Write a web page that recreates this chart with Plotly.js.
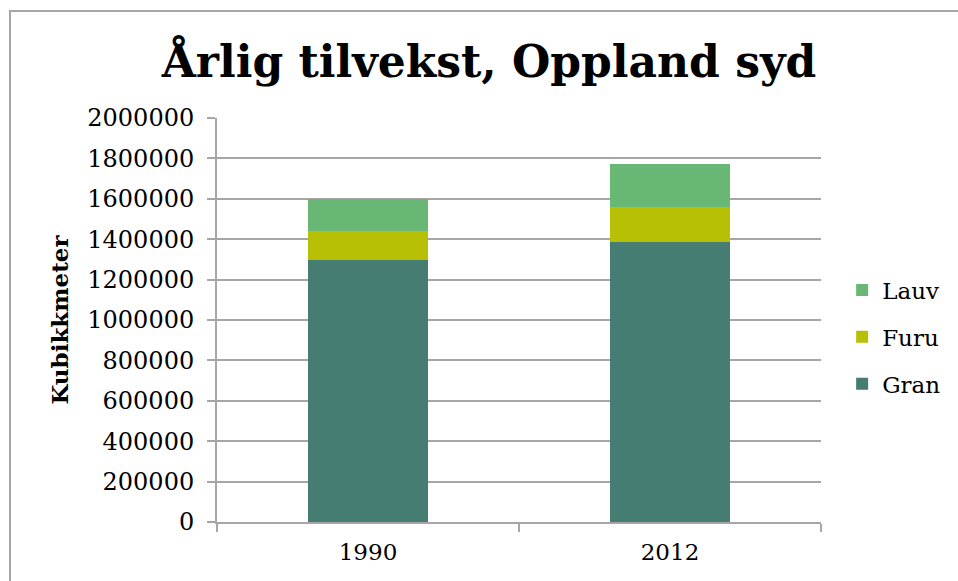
<!DOCTYPE html>
<html>
<head>
<meta charset="utf-8">
<script src="https://cdn.plot.ly/plotly-3.0.1.min.js"></script>
<style>
  html, body { margin: 0; padding: 0; background: #fff; }
  #wrap { position: relative; width: 958px; height: 581px; overflow: hidden; }
  #chart { width: 958px; height: 581px; }
  #frame { position: absolute; left: 9px; top: 10px; width: 1000px; height: 700px;
           border-left: 2px solid #a6a6a6; border-top: 2px solid #a6a6a6; pointer-events: none; }
</style>
</head>
<body>
<div id="wrap">
  <div id="chart"></div>
  <div id="frame"></div>
</div>
<script>
const years = ['1990', '2012'];
const gran = [1295000, 1388000];
const furu = [147000, 172000];
const lauv = [158000, 213000];
const seriesNames = ['Gran', 'Furu', 'Lauv'];
const seriesColors = ['#457d72', '#b8c006', '#69b774'];
const legendRanks = [3, 2, 1];
const yTicks = [0, 200000, 400000, 600000, 800000, 1000000, 1200000, 1400000, 1600000, 1800000, 2000000];

const FONT = 'DejaVu Serif, Georgia, serif';
const seriesVals = [gran, furu, lauv];
const traces = seriesVals.map((vals, i) => ({
  type: 'bar',
  x: years,
  y: vals,
  name: seriesNames[i],
  legendgroup: seriesNames[i],
  legendrank: legendRanks[i],
  marker: { color: seriesColors[i], line: { width: 0 } },
  hoverinfo: 'x+y+name'
}));

const layout = {
  width: 958,
  height: 581,
  paper_bgcolor: '#ffffff',
  plot_bgcolor: '#ffffff',
  margin: { l: 217, r: 137, t: 118, b: 59 },
  barmode: 'stack',
  bargap: 0.6,
  font: { family: FONT, color: '#000000', size: 24 },
  title: {
    text: '<b>Årlig tilvekst, Oppland syd</b>',
    font: { family: FONT, size: 44, color: '#000000' },
    xref: 'container', x: 0.5104, xanchor: 'center',
    yref: 'container', y: 1 - 62 / 581, yanchor: 'middle'
  },
  xaxis: {
    type: 'category',
    showline: true, linecolor: '#a6a6a6', linewidth: 2,
    ticks: 'outside', tickson: 'boundaries', ticklen: 8, tickcolor: '#a6a6a6', tickwidth: 2,
    showgrid: false,
    tickfont: { family: FONT, size: 23, color: '#000' },
    ticklabelstandoff: 8
  },
  yaxis: {
    range: [0, 2000000],
    tickvals: yTicks,
    ticktext: yTicks.map(v => String(v)),
    showline: true, linecolor: '#a6a6a6', linewidth: 2,
    ticks: 'outside', ticklen: 8, tickcolor: '#a6a6a6', tickwidth: 2,
    showgrid: true, gridcolor: '#a6a6a6', gridwidth: 2,
    zeroline: false,
    tickfont: { family: FONT, size: 24, color: '#000' },
    ticklabelstandoff: 8,
    title: { text: '<b>Kubikkmeter</b>', font: { family: FONT, size: 23, color: '#000' }, standoff: 12 }
  },
  showlegend: true,
  legend: {
    x: 1.035, xanchor: 'left',
    y: 0.458, yanchor: 'middle',
    traceorder: 'grouped',
    tracegroupgap: 14,
    font: { family: FONT, size: 23, color: '#000' },
    bgcolor: 'rgba(0,0,0,0)'
  }
};

Plotly.newPlot('chart', traces, layout, { displayModeBar: false, staticPlot: true });
</script>
</body>
</html>
